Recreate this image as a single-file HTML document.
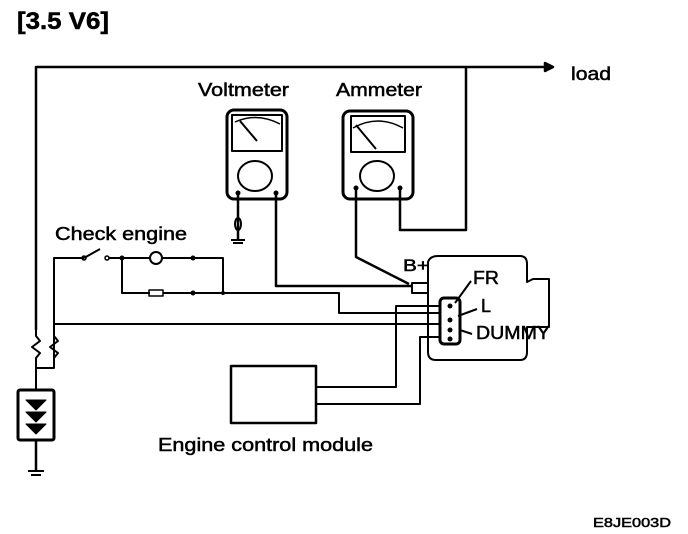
<!DOCTYPE html>
<html><head><meta charset="utf-8"><style>html,body{margin:0;padding:0;background:#fff}svg{display:block}</style></head>
<body>
<svg width="688" height="534" viewBox="0 0 688 534" xmlns="http://www.w3.org/2000/svg" font-family="Liberation Sans, sans-serif">
<g fill="none" stroke="#000" stroke-width="2.5" stroke-linejoin="round">
<polyline points="36,330 36,67 545,67"/>
<polygon points="545,63 553,67 545,71" fill="#000"/>
<polyline points="466,67 466,230 400,230 400,188"/>
<rect x="227" y="110" width="60" height="89" rx="7" stroke-width="3"/>
<rect x="232" y="115" width="50" height="36" stroke-width="2"/>
<path d="M235,122 Q257,112 280,124" stroke-width="1.5"/>
<line x1="240" y1="121" x2="257" y2="141" stroke-width="2"/>
<ellipse cx="255" cy="176" rx="17" ry="15" stroke-width="2"/>
<polyline points="238,193 238,240"/>
<ellipse cx="238" cy="224" rx="3" ry="6" stroke-width="2"/>
<line x1="231" y1="240" x2="245" y2="240" stroke-width="2"/>
<line x1="233" y1="243" x2="243" y2="243" stroke-width="2"/>
<polyline points="276,193 276,286 413,286"/>
<rect x="343" y="111" width="70" height="88" rx="7" stroke-width="3"/>
<rect x="351" y="116" width="54" height="36" stroke-width="2"/>
<path d="M353,128 Q378,114 403,128" stroke-width="1.5"/>
<line x1="356" y1="125" x2="376" y2="149" stroke-width="2"/>
<ellipse cx="377" cy="176" rx="17" ry="15" stroke-width="2"/>
<polyline points="356,188 356,257 409,284"/>
<path d="M428,262 Q430,256 438,256 L520,256 Q527,256 527,264 L527,282 L533,279 L549,279 L549,327 L527,327 L527,352 Q527,360 520,360 L436,360 Q428,360 428,352 Z" stroke-width="2"/>
<rect x="412" y="283" width="16" height="10" stroke-width="2"/>
<rect x="440" y="298" width="20" height="46" rx="4" stroke-width="3"/>
<line x1="471" y1="281" x2="455" y2="303" stroke-width="2"/>
<line x1="477" y1="309" x2="458" y2="316" stroke-width="2"/>
<line x1="472" y1="334" x2="460" y2="330" stroke-width="2"/>
<polyline points="54,368 54,258 84,258" stroke-width="2"/>
<line x1="84" y1="258" x2="100" y2="249" stroke-width="2"/>
<circle cx="84" cy="258" r="2" stroke-width="1.5"/>
<circle cx="107" cy="258" r="2" stroke-width="1.5"/>
<polyline points="109,258 150,258" stroke-width="2"/>
<circle cx="156" cy="258" r="6" stroke-width="2"/>
<polyline points="162,258 223,258 223,293" stroke-width="2"/>
<polyline points="122,258 122,293 150,293" stroke-width="2"/>
<rect x="149" y="290" width="14" height="6" stroke-width="1.5"/>
<polyline points="163,293 339,293 339,313 440,313" stroke-width="2"/>
<polyline points="54,324 440,324" stroke-width="2"/>
<rect x="231" y="366" width="85" height="57" stroke-width="2.5"/>
<polyline points="316,387 396,387 396,306 440,306" stroke-width="2"/>
<polyline points="316,404 420,404 420,337 440,337" stroke-width="2"/>
<polyline points="36,330 36,336 40,341 32,347 40,353 36,358 36,390" stroke-width="2"/>
<polyline points="54,324 54,336 58,341 50,347 58,353 54,358 54,368 36,368" stroke-width="2"/>
<rect x="18" y="390" width="36" height="50" rx="2" stroke-width="3"/>
<path d="M26,400 L46,400 L36,410 Z M26,412 L46,412 L36,422 Z M26,424 L46,424 L36,434 Z" fill="#000" stroke-width="1"/>
<polyline points="36,440 36,471"/>
<line x1="28" y1="471" x2="44" y2="471" stroke-width="2"/>
<line x1="31" y1="475" x2="41" y2="475" stroke-width="2"/>
</g>
<g fill="#000">
<circle cx="238" cy="193" r="2.5"/><circle cx="276" cy="193" r="2.5"/>
<circle cx="356" cy="188" r="2.5"/><circle cx="400" cy="188" r="2.5"/>
<circle cx="122" cy="258" r="2.5"/><circle cx="193" cy="258" r="2.5"/><circle cx="193" cy="293" r="2.5"/><circle cx="223" cy="293" r="2"/>
<circle cx="450" cy="306" r="2.5"/><circle cx="450" cy="320" r="2.5"/><circle cx="450" cy="330" r="2.5"/><circle cx="450" cy="339" r="2.5"/>
</g>
<g fill="#000" stroke="#000" stroke-width="0.5">
<text x="17" y="29" font-size="24" font-weight="bold" textLength="92" lengthAdjust="spacingAndGlyphs">[3.5 V6]</text>
<text x="571" y="80" font-size="18" textLength="40" lengthAdjust="spacingAndGlyphs">load</text>
<text x="198" y="96" font-size="18" textLength="91" lengthAdjust="spacingAndGlyphs">Voltmeter</text>
<text x="336" y="96" font-size="18" textLength="86" lengthAdjust="spacingAndGlyphs">Ammeter</text>
<text x="55" y="240" font-size="18" textLength="132" lengthAdjust="spacingAndGlyphs">Check engine</text>
<text x="403" y="271" font-size="17" textLength="26" lengthAdjust="spacingAndGlyphs">B+</text>
<text x="473" y="284" font-size="18" textLength="26" lengthAdjust="spacingAndGlyphs">FR</text>
<text x="481" y="312" font-size="18">L</text>
<text x="476" y="339" font-size="18" textLength="74" lengthAdjust="spacingAndGlyphs">DUMMY</text>
<text x="158" y="451" font-size="18" textLength="215" lengthAdjust="spacingAndGlyphs">Engine control module</text>
<text x="593" y="527" font-size="13" textLength="78" lengthAdjust="spacingAndGlyphs">E8JE003D</text>
</g>
</svg>
</body></html>
